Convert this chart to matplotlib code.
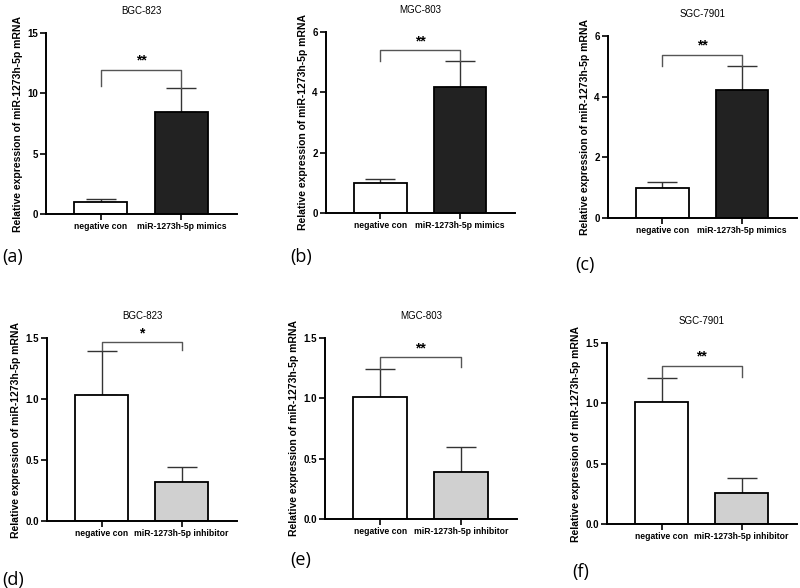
import numpy as np
import matplotlib
matplotlib.use("Agg")
import matplotlib.pyplot as plt

plt.rcParams['font.family'] = ['Liberation Sans', 'DejaVu Sans']

# data ------------------------------
titles = ["BGC-823", "MGC-803", "SGC-7901", "BGC-823", "MGC-803", "SGC-7901"]
panel_tags = ["(a)", "(b)", "(c)", "(d)", "(e)", "(f)"]
groups_mimic = ["negative con", "miR-1273h-5p mimics"]
groups_inhib = ["negative con", "miR-1273h-5p inhibitor"]

mimic_means = [[1.0, 8.48], [1.0, 4.17], [1.0, 4.23]]
mimic_errs = [[0.24, 1.96], [0.14, 0.86], [0.18, 0.78]]
inhib_means = [[1.03, 0.32], [1.01, 0.39], [1.01, 0.255]]
inhib_errs = [[0.365, 0.125], [0.233, 0.205], [0.203, 0.127]]

# bracket height, left leg bottom, right leg bottom
brackets = [(11.96, 10.6, 10.45), (5.39, 5.03, 5.03), (5.37, 5.0, 5.0),
            (1.464, 1.40, 1.40), (1.34, 1.243, 1.256), (1.31, 1.213, 1.22)]
stars = ["**", "**", "**", "*", "**", "**"]

ytops = [15, 6, 6, 1.5, 1.5, 1.5]
yticks = [[0, 5, 10, 15], [0, 2, 4, 6], [0, 2, 4, 6],
          [0, 0.5, 1.0, 1.5], [0, 0.5, 1.0, 1.5], [0, 0.5, 1.0, 1.5]]
yfmt = ["{:.0f}", "{:.0f}", "{:.0f}", "{:.1f}", "{:.1f}", "{:.1f}"]

# layout in pixels (left, right, top, bottom) ------------------------------
W, H = 800, 588
boxes = [(46, 237, 33, 214), (326, 515, 32, 213), (608, 797, 36, 218),
         (47, 237, 338, 521), (325, 517, 338, 519), (607, 797, 343, 524)]
tag_pos = [(2, 257), (290, 257), (575, 265), (2, 580), (290, 560), (572, 572)]

fig = plt.figure(figsize=(W / 100, H / 100), dpi=100)

for i in range(6):
    l, r, t, b = boxes[i]
    ax = fig.add_axes([l / W, 1 - b / H, (r - l) / W, (b - t) / H])
    if i < 3:
        means, errs, labels = mimic_means[i], mimic_errs[i], groups_mimic
        fill = "#222222"
    else:
        means, errs, labels = inhib_means[i - 3], inhib_errs[i - 3], groups_inhib
        fill = "#d0d0d0"
    x = np.arange(2)
    ax.bar(x, means, width=0.66, color=["white", fill], edgecolor="black",
           linewidth=1.3, zorder=2)
    ax.errorbar(x, means, yerr=[np.zeros(2), errs], fmt="none", ecolor="#333333",
                elinewidth=1.0, capsize=11, capthick=1.0, zorder=1)

    # significance bracket
    by, lb, rb = brackets[i]
    ax.plot([0, 0, 1, 1], [lb, by, by, rb], color="#555555", lw=1.0,
            clip_on=False, zorder=3)
    ax.text(0.5, by + ytops[i] * 0.012, stars[i], ha="center", va="bottom",
            fontsize=10, fontweight="bold")

    ax.set_xlim(-0.68, 1.69)
    ax.set_ylim(0, ytops[i])
    ax.set_xticks(x)
    ax.set_xticklabels(labels, fontsize=6.2, fontweight="bold")
    ax.set_yticks(yticks[i])
    ax.set_yticklabels([yfmt[i].format(v) for v in yticks[i]], fontsize=7,
                       fontweight="bold")
    ax.tick_params(axis="both", width=1.2, length=4, pad=2)
    ax.spines["top"].set_visible(False)
    ax.spines["right"].set_visible(False)
    ax.spines["left"].set_linewidth(1.4)
    ax.spines["bottom"].set_linewidth(1.4)
    ax.set_ylabel("Relative expression of miR-1273h-5p mRNA", fontsize=7.5,
                  fontweight="bold", labelpad=3)
    ax.set_title(titles[i], fontsize=7, pad=14)

    tx, ty = tag_pos[i]
    fig.text(tx / W, 1 - ty / H, panel_tags[i], fontsize=13, va="center",
             ha="left", family=["Open Sans", "DejaVu Sans"])

fig.savefig("out.png", dpi=100)
